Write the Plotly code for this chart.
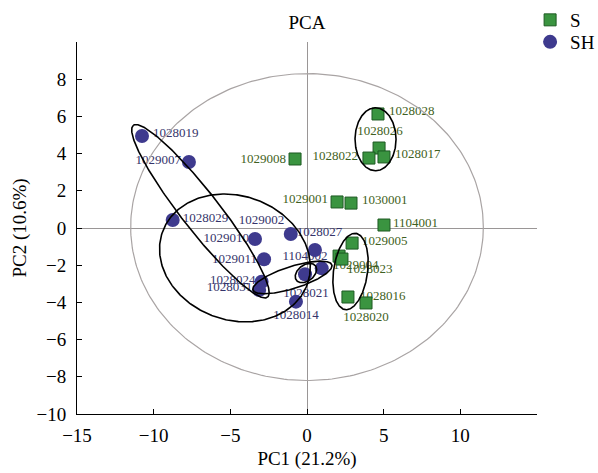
import numpy as np
import plotly.graph_objects as go

# ---------------- data ----------------
s_names = ["1028028", "1028026", "1028022", "1028017", "1029008", "1029001", "1030001",
           "1104001", "1029005", "1029004", "1028023", "1028016", "1028020"]
s_pc1 = [4.63, 4.70, 4.04, 5.02, -0.78, 1.96, 2.87, 5.02, 2.94, 2.09, 2.28, 2.67, 3.85]
s_pc2 = [6.13, 4.30, 3.76, 3.82, 3.71, 1.40, 1.34, 0.16, -0.81, -1.51, -1.67, -3.71, -4.03]

sh_names = ["1028019", "1029007", "1028029", "1029002", "1029010", "1028027", "1029011",
            "1104002", "1028024", "1028031", "1028021", "1028014"]
sh_pc1 = [-10.76, -7.70, -8.76, 0.96, -3.39, -1.06, -2.80, 0.52, -2.96, -3.12, -0.13, -0.72]
sh_pc2 = [4.95, 3.55, 0.43, -2.17, -0.59, -0.32, -1.68, -1.18, -2.89, -3.33, -2.49, -3.96]

x_ticks = [-15, -10, -5, 0, 5, 10]
y_ticks = [-10, -8, -6, -4, -2, 0, 2, 4, 6, 8]

# ---------------- layout constants ----------------
W, H = 598, 473
ML, MR, MT, MB = 77, 61, 42, 59
XR = [-15, 15]
YR = [-10, 10]
SX = (W - ML - MR) / (XR[1] - XR[0])   # px per unit
SY = (H - MT - MB) / (YR[1] - YR[0])

# label placement: (anchor, dx px, dy px downwards)
s_lab = [("left", 11, -2), ("center", 1, -16), ("right", -11, -1), ("left", 11, -2),
         ("right", -9, 1), ("right", -9, -2), ("left", 11, -2), ("left", 9, -1),
         ("left", 10, -1), ("left", -6, 10), ("left", 5, 11), ("left", 12, 0),
         ("center", 0, 15)]
sh_lab = [("left", 11, -2), ("right", -8, -1), ("left", 10, -1), ("left", -83, -48),
          ("right", -6, 0), ("left", 6, -1), ("right", -7, 0), ("center", -10, 7),
          ("right", -6, -1), ("right", -7, -2), ("center", 1, 19), ("center", 0, 14)]

# group ellipses: centre (data), semi-axes a, b (px), angle (deg, visual)
ellipses = [
    ((4.47, 4.77), 20.5, 31.5, 0),
    ((2.84, -2.34), 38.5, 17, 82),
    ((-6.95, 0.90), 109, 19, 128),
    ((-4.70, -1.61), 77, 62, -20),
    ((-0.95, -2.66), 41.4, 11, 17.6),
    ((-0.07, -2.42), 12, 8, 37),
]
big_ellipse = ((0.0, 0.05), 11.5, 8.25)

S_GREEN = "#3a9440"
S_EDGE = "#1d5a22"
SH_PURPLE = "#3e3a8e"
S_TXT = "#3f5f22"
SH_TXT = "#35346a"
FONT = "Liberation Serif"

POS = {"left": "middle right", "right": "middle left", "center": "middle center"}


def label_xy(xs, ys, specs):
    lx, ly, tp = [], [], []
    for x, y, (anc, dx, dy) in zip(xs, ys, specs):
        lx.append(x + dx / SX)
        ly.append(y - dy / SY)
        tp.append(POS[anc])
    return lx, ly, tp


fig = go.Figure()

# labels (under markers)
for xs, ys, names, specs, col in [(s_pc1, s_pc2, s_names, s_lab, S_TXT),
                                  (sh_pc1, sh_pc2, sh_names, sh_lab, SH_TXT)]:
    lx, ly, tp = label_xy(xs, ys, specs)
    fig.add_trace(go.Scatter(x=lx, y=ly, mode="text", text=names, textposition=tp,
                             textfont=dict(family=FONT, size=13, color=col),
                             showlegend=False, hoverinfo="skip"))

fig.add_trace(go.Scatter(x=s_pc1, y=s_pc2, mode="markers", name="S", legend="legend",
                         marker=dict(symbol="square", size=12, color=S_GREEN,
                                     line=dict(color=S_EDGE, width=1))))
fig.add_trace(go.Scatter(x=sh_pc1, y=sh_pc2, mode="markers", name="SH", legend="legend2",
                         marker=dict(symbol="circle", size=14, color=SH_PURPLE,
                                     line=dict(width=0))))

# big confidence ellipse
t = np.linspace(0, 2 * np.pi, 300)
(cx, cy), ra, rb = big_ellipse
fig.add_trace(go.Scatter(x=cx + ra * np.cos(t), y=cy + rb * np.sin(t), mode="lines",
                         line=dict(color="#a9a4a4", width=1.2), showlegend=False,
                         hoverinfo="skip"))

# group ellipses
for (cx, cy), a, b, ang in ellipses:
    th = np.deg2rad(ang)
    px = a * np.cos(t) * np.cos(th) - b * np.sin(t) * np.sin(th)
    py = a * np.cos(t) * np.sin(th) + b * np.sin(t) * np.cos(th)
    fig.add_trace(go.Scatter(x=cx + px / SX, y=cy + py / SY, mode="lines",
                             line=dict(color="black", width=1.6), showlegend=False,
                             hoverinfo="skip"))

axis_common = dict(showline=True, linecolor="black", linewidth=1, ticks="inside",
                   ticklen=5, tickcolor="black", showgrid=False, zeroline=True,
                   zerolinecolor="#9a9696", zerolinewidth=1,
                   tickfont=dict(family=FONT, size=19, color="black"))

leg_common = dict(x=0.985, xanchor="left", yanchor="middle",
                  font=dict(family=FONT, size=19, color="black"),
                  bgcolor="rgba(0,0,0,0)", itemwidth=30)

fig.update_layout(
    width=W, height=H,
    margin=dict(l=ML, r=MR, t=MT, b=MB, autoexpand=False),
    paper_bgcolor="white", plot_bgcolor="white",
    title=dict(text="PCA", x=(ML + (W - ML - MR) / 2) / W, xanchor="center",
               y=1 - 22 / H, yanchor="middle", yref="container",
               font=dict(family=FONT, size=19, color="black")),
    xaxis=dict(range=XR, tickvals=x_ticks, ticklabelstandoff=4,
               title=dict(text="PC1 (21.2%)", font=dict(family=FONT, size=19, color="black"),
                          standoff=6),
               **axis_common),
    yaxis=dict(range=YR, tickvals=y_ticks, ticklabelstandoff=6,
               title=dict(text="PC2 (10.6%)", font=dict(family=FONT, size=19, color="black"),
                          standoff=4),
               **axis_common),
    legend=dict(y=1 + (MT - 20) / (H - MT - MB), **leg_common),
    legend2=dict(y=1 + (MT - 42) / (H - MT - MB), **leg_common),
    showlegend=True,
)

fig.write_html("out.html", config={"displayModeBar": False},
               post_script="document.body.style.margin='0';document.body.style.overflow='hidden';")
